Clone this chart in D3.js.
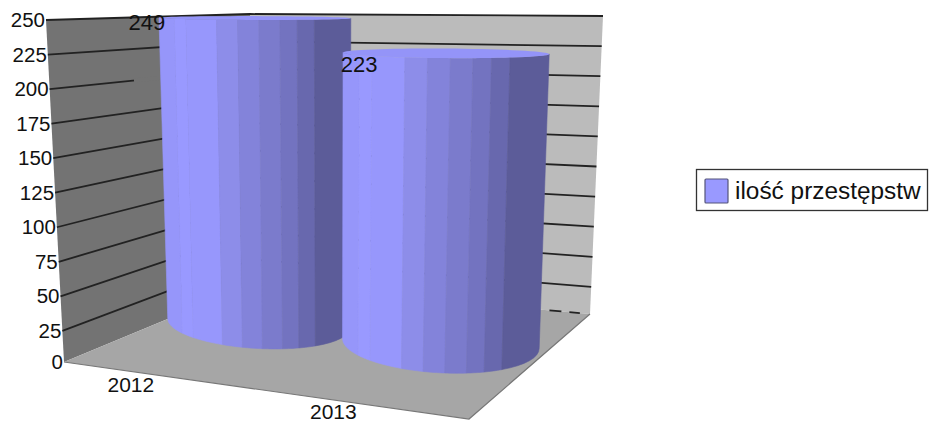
<!DOCTYPE html>
<html>
<head>
<meta charset="utf-8">
<script src="https://cdn.jsdelivr.net/npm/d3@7"></script>
<style>
	body { margin: 0; background: #fff; }
	text { font-family: "Liberation Sans", Arial, sans-serif; fill: #111; }
</style>
</head>
<body>
<div id="chart"></div>
<script>
const categories = ["2012", "2013"]
const values = [249, 223]
const seriesName = "ilość przestępstw"
const yTicks = [0, 25, 50, 75, 100, 125, 150, 175, 200, 225, 250]

const WIDTH = 929
const HEIGHT = 423

// box corners on screen, [floor, top]; u runs left to right, v runs front to back
const BOX = {
	frontLeft: [[64, 362], [46, 20]],
	frontRight: [[469, 419], [478, 22]],
	backLeft: [[252, 284], [250, 14]],
	backRight: [[590, 314], [603, 16]]
}

// front half of a cylinder, left to right
const BAND_EDGES = [0, .08, .14, .30, .41, .52, .63, .72, .81, 1]
const BAND_COLORS = ["#9696fa", "#9999ff", "#9797fc", "#8d8de9", "#8383da", "#7b7bcc", "#7373c0", "#6868ae", "#5c5c99"]

// the nearer cylinder comes out wider
const RADIUS_U = [.25, .27]
const RADIUS_V = .3
const CENTER_V = .61
const ELLIPSE_TILT = .45

const lerp = (a, b, t) => [a[0] + (b[0] - a[0]) * t, a[1] + (b[1] - a[1]) * t]

// first step of the axis is drawn a little shorter than the others
const yScale = d3.scaleLinear().domain([0, 25, 250]).range([0, .091, 1])
const uScale = d3.scalePoint().domain(categories).range([.22, .72])
const categoryLabelU = d3.scalePoint().domain(categories).range([.165, .665])

// trilinear mapping of the chart box to the screen
function project(u, v, h) {
	const level = i => lerp(
		lerp(BOX.frontLeft[i], BOX.frontRight[i], u),
		lerp(BOX.backLeft[i], BOX.backRight[i], u),
		v
	)
	return lerp(level(0), level(1), h)
}

const svg = d3.select("#chart")
	.append("svg")
		.attr("width", WIDTH)
		.attr("height", HEIGHT)

const line = d3.line()
const closed = pts => line(pts) + "Z"

// walls and floor
svg.append("path")
	.attr("d", closed([project(0, 0, 0), project(0, 1, 0), project(0, 1, 1), project(0, 0, 1)]))
	.attr("fill", "#737373")
svg.append("path")
	.attr("d", closed([project(0, 1, 0), project(1, 1, 0), project(1, 1, 1), project(0, 1, 1)]))
	.attr("fill", "#bbbbbb")
svg.append("path")
	.attr("d", closed([project(0, 0, 0), project(1, 0, 0), project(1, 1, 0), project(0, 1, 0)]))
	.attr("fill", "#a6a6a6")
svg.append("path")
	.attr("d", line([project(0, 0, 0), project(1, 0, 0), project(1, 1, 0)]))
	.attr("fill", "none")
	.attr("stroke", "#777")
	.attr("stroke-width", 1.2)

// gridlines
const gridTicks = yTicks.filter(d => d > 0)
svg.append("g").selectAll("path")
	.data(gridTicks)
	.join("path")
		.attr("d", d => line([project(0, 0, yScale(d)), project(0, 1, yScale(d)), project(1, 1, yScale(d))]))
		.attr("fill", "none")
		.attr("stroke", "#222")
		.attr("stroke-width", 1.8)

// the 200 line is broken just before the first cylinder
svg.append("path")
	.attr("d", line([project(0, .42, yScale(200)), project(0, .58, yScale(200))]))
	.attr("stroke", "#737373")
	.attr("stroke-width", 4)

// zero line only shows as two dashes at the far right
svg.append("path")
	.attr("d", line([project(.88, 1, 0), project(.97, 1, 0)]))
	.attr("fill", "none")
	.attr("stroke", "#222")
	.attr("stroke-width", 1.8)
	.attr("stroke-dasharray", "12 8")

// cylinders, back to front
function ringPoint(i, t, h) {
	const u = uScale(categories[i])
	const ru = RADIUS_U[i]
	const c = project(u, CENTER_V, h)
	const a = project(u + ru, CENTER_V, h)
	const b = project(u - ru, CENTER_V, h)
	const back = project(u, CENTER_V + RADIUS_V, h)
	const front = project(u, CENTER_V - RADIUS_V, h)
	return [
		c[0] + Math.cos(t) * (a[0] - b[0]) / 2,
		c[1] + Math.cos(t) * (a[1] - b[1]) / 2 * ELLIPSE_TILT + Math.sin(t) * (back[1] - front[1]) / 2
	]
}

// f = 0 is the left silhouette, f = 1 the right one
const bandAngle = f => Math.PI + Math.acos(1 - 2 * f)

categories.forEach((cat, i) => {
	const h = yScale(values[i])
	const g = svg.append("g")

	g.selectAll("path.band")
		.data(BAND_COLORS)
		.join("path")
			.attr("class", "band")
			.attr("d", (c, k) => {
				const t0 = bandAngle(BAND_EDGES[k])
				const t1 = bandAngle(BAND_EDGES[k + 1])
				const ts = d3.range(0, 9).map(s => t0 + (t1 - t0) * s / 8)
				return closed(ts.map(t => ringPoint(i, t, 0)).concat(ts.slice().reverse().map(t => ringPoint(i, t, h))))
			})
			.attr("fill", c => c)
			.attr("stroke", c => c)
			.attr("stroke-width", .6)

	g.append("path")
		.attr("d", closed(d3.range(0, 72).map(s => ringPoint(i, s / 72 * Math.PI * 2, h))))
		.attr("fill", "#9494f8")
})

// y axis labels follow the slanted wall edge
svg.append("g").selectAll("text")
	.data(yTicks)
	.join("text")
		.attr("x", d => project(0, 0, yScale(d))[0] - 1)
		.attr("y", d => project(0, 0, yScale(d))[1] + 7)
		.attr("text-anchor", "end")
		.attr("font-size", 20.5)
		.text(d => d)

// category labels, kept inside the bottom of the page
svg.append("g").selectAll("text")
	.data(categories)
	.join("text")
		.attr("x", d => project(categoryLabelU(d), 0, 0)[0])
		.attr("y", d => Math.min(project(categoryLabelU(d), 0, 0)[1] + 21, HEIGHT - 4.5))
		.attr("text-anchor", "middle")
		.attr("font-size", 21)
		.text(d => d)

// value labels, shifted from the centre of each cylinder top
const valueLabelNudge = [[-108, 12], [-87, 19]]
svg.append("g").selectAll("text")
	.data(values)
	.join("text")
		.attr("x", (d, i) => project(uScale(categories[i]), CENTER_V, yScale(d))[0] + valueLabelNudge[i][0])
		.attr("y", (d, i) => project(uScale(categories[i]), CENTER_V, yScale(d))[1] + valueLabelNudge[i][1])
		.attr("text-anchor", "middle")
		.attr("font-size", 22)
		.text(d => d)

// legend
const legend = svg.append("g").attr("transform", "translate(696, 169)")
legend.append("rect")
	.attr("x", .5).attr("y", .5)
	.attr("width", 231).attr("height", 41)
	.attr("fill", "#fff")
	.attr("stroke", "#333")
	.attr("stroke-width", 1.3)
legend.append("rect")
	.attr("x", 9).attr("y", 10)
	.attr("width", 23).attr("height", 24)
	.attr("rx", 1)
	.attr("fill", "#9999ff")
	.attr("stroke", "#55557a")
	.attr("stroke-width", 1.2)
legend.append("text")
	.attr("x", 39)
	.attr("y", 30)
	.attr("font-size", 24.4)
	.text(seriesName)
</script>
</body>
</html>
